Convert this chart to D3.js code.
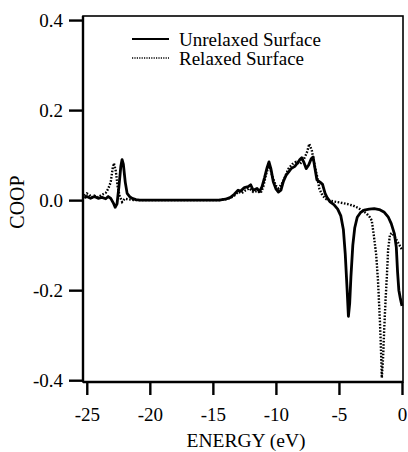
<!DOCTYPE html>
<html>
	<head>
		<script type="text/javascript" src="https://cdn.jsdelivr.net/npm/d3@7"></script>
	</head>
	<style>
	  body {
	  margin: 0;
	  background: white;
	  }
	  svg text {
	  font-family: "Liberation Serif", "Times New Roman", serif;
	  fill: black;
	  }
	</style>
	<body>
	  <svg id="chart" width="408" height="452"></svg>
	  <script type="text/javascript">
	    // energy (eV) and COOP
	    var unrelaxedE = [-25.2, -25.0, -24.7, -24.4, -24.1, -23.8, -23.5, -23.3, -23.1, -22.9, -22.75, -22.6, -22.45, -22.3, -22.2, -22.1, -21.95, -21.8, -21.6, -21.4, -21.1, -20.8,
	      -14.5, -14.0, -13.6, -13.3, -13.0, -12.8, -12.5, -12.2, -12.0, -11.8, -11.5, -11.3, -11.1, -10.9, -10.7, -10.55, -10.4, -10.2, -10.0, -9.8, -9.6, -9.4, -9.2, -9.0, -8.8, -8.5, -8.3, -8.1, -7.95, -7.8, -7.6, -7.4, -7.2, -7.05, -6.9, -6.75, -6.5, -6.3, -6.1, -5.95,
	      -5.7, -5.4, -5.1, -4.85, -4.65, -4.5, -4.35, -4.25, -4.15, -4.05, -3.9, -3.75, -3.55, -3.3, -3.0, -2.6, -2.2, -1.8, -1.4, -1.1, -0.85, -0.6, -0.45, -0.35, -0.25, -0.12, 0.0];
	    var unrelaxedCOOP = [0.005, 0.008, 0.004, 0.008, 0.004, 0.006, 0.003, 0.008, 0.004, -0.006, -0.016, -0.008, 0.03, 0.075, 0.09, 0.08, 0.04, 0.015, 0.008, 0.004, 0.001, 0.0,
	      0.0, 0.002, 0.006, 0.013, 0.022, 0.02, 0.028, 0.03, 0.034, 0.022, 0.026, 0.019, 0.03, 0.05, 0.072, 0.085, 0.07, 0.04, 0.025, 0.018, 0.022, 0.042, 0.055, 0.062, 0.07, 0.075, 0.082, 0.09, 0.094, 0.085, 0.07, 0.078, 0.092, 0.096, 0.07, 0.045, 0.04, 0.035, 0.015, 0.006,
	      -0.004, -0.01, -0.02, -0.035, -0.065, -0.12, -0.2, -0.258, -0.23, -0.17, -0.1, -0.062, -0.038, -0.028, -0.022, -0.02, -0.019, -0.021, -0.027, -0.037, -0.052, -0.075, -0.105, -0.16, -0.2, -0.22, -0.235];

	    var relaxedE = [-25.2, -25.0, -24.8, -24.6, -24.4, -24.1, -23.8, -23.5, -23.3, -23.1, -22.95, -22.85, -22.7, -22.55, -22.4, -22.2, -22.0, -21.7, -21.3,
	      -14.5, -14.0, -13.6, -13.3, -13.0, -12.7, -12.4, -12.1, -11.8, -11.5, -11.2, -11.0, -10.8, -10.6, -10.45, -10.25, -10.0, -9.8, -9.55, -9.3, -9.0, -8.7, -8.4, -8.1, -7.8, -7.55, -7.35, -7.15, -6.95, -6.75, -6.55, -6.3, -6.0,
	      -5.6, -5.2, -4.8, -4.3, -3.9, -3.5, -3.1, -2.8, -2.55, -2.4, -2.25, -2.05, -1.9, -1.75, -1.68, -1.6, -1.5, -1.4, -1.3, -1.2, -1.1, -0.95, -0.8, -0.6, -0.4, -0.2, 0.0];
	    var relaxedCOOP = [0.01, 0.015, 0.012, 0.006, 0.01, 0.006, 0.012, 0.016, 0.025, 0.04, 0.07, 0.082, 0.065, 0.03, 0.01, -0.004, 0.003, 0.002, 0.0,
	      0.0, 0.002, 0.005, 0.01, 0.018, 0.016, 0.022, 0.026, 0.018, 0.02, 0.016, 0.03, 0.055, 0.075, 0.07, 0.05, 0.032, 0.026, 0.035, 0.05, 0.07, 0.08, 0.085, 0.08, 0.09, 0.105, 0.125, 0.11, 0.08, 0.055, 0.025, 0.01, 0.002,
	      -0.002, -0.004, -0.006, -0.009, -0.012, -0.017, -0.024, -0.03, -0.038, -0.045, -0.075, -0.12, -0.18, -0.27, -0.32, -0.395, -0.35, -0.28, -0.22, -0.17, -0.11, -0.076, -0.073, -0.08, -0.09, -0.1, -0.11];

	    var xTicks = [-25, -20, -15, -10, -5, 0];
	    var yTicks = [-0.4, -0.2, 0.0, 0.2, 0.4];
	    var seriesNames = ["Unrelaxed Surface", "Relaxed Surface"];

	    var serif = "'Liberation Serif', 'Times New Roman', serif";
	    var svg = d3.select("#chart");
	    var plotLeft = 83, plotRight = 403, plotTop = 16, plotBottom = 382;

	    var x = d3.scaleLinear().domain([-25.3, 0.08]).range([plotLeft, plotRight]);
	    var y = d3.scaleLinear().domain([-0.404, 0.409]).range([plotBottom, plotTop]);

	    // frame
	    svg.append("rect").attr("x", plotLeft).attr("y", plotTop).attr("width", plotRight - plotLeft).attr("height", plotBottom - plotTop)
	      .attr("fill", "none").attr("stroke", "black").attr("stroke-width", 1.6);

	    var xAxis = svg.append("g").attr("transform", "translate(0," + plotBottom + ")")
	      .call(d3.axisBottom(x).tickValues(xTicks).tickSize(13).tickPadding(13).tickFormat(function(d){return String(d);}));
	    var yAxis = svg.append("g").attr("transform", "translate(" + plotLeft + ",0)")
	      .call(d3.axisLeft(y).tickValues(yTicks).tickSize(14).tickPadding(6).tickFormat(function(d){return d.toFixed(1);}));

	    svg.selectAll(".domain").remove();
	    svg.selectAll(".tick line").attr("stroke-width", 2.4);
	    xAxis.attr("font-family", serif).attr("font-size", 19);
	    yAxis.attr("font-family", serif).attr("font-size", 19);
	    svg.selectAll(".tick text").attr("fill", "black");

	    // thicker left and bottom edges
	    svg.append("line").attr("x1", plotLeft).attr("x2", plotLeft).attr("y1", plotTop).attr("y2", plotBottom).attr("stroke", "black").attr("stroke-width", 2.4);
	    svg.append("line").attr("x1", plotLeft).attr("x2", plotRight).attr("y1", plotBottom).attr("y2", plotBottom).attr("stroke", "black").attr("stroke-width", 2.4);

	    svg.append("text").attr("x", 246).attr("y", 447).attr("text-anchor", "middle")
	      .attr("font-family", serif).style("font-size", "19.5px").text("ENERGY (eV)");
	    svg.append("text").attr("transform", "translate(24,202) rotate(-90)").attr("text-anchor", "middle")
	      .attr("font-family", serif).style("font-size", "20px").text("COOP");

	    var lineFunction = d3.line().x(function(d){return x(d[0]);}).y(function(d){return y(d[1]);}).curve(d3.curveLinear);
	    var unrelaxed = d3.zip(unrelaxedE, unrelaxedCOOP);
	    var relaxed = d3.zip(relaxedE, relaxedCOOP);

	    svg.append("path").attr("d", lineFunction(relaxed)).attr("fill", "none").attr("stroke", "black")
	      .attr("stroke-width", 2.4).attr("stroke-dasharray", "1.6,1.6");
	    svg.append("path").attr("d", lineFunction(unrelaxed)).attr("fill", "none").attr("stroke", "black")
	      .attr("stroke-width", 2.8).attr("stroke-linejoin", "round");

	    // legend
	    var legend = svg.append("g");
	    var legendRows = legend.selectAll("g").data(seriesNames).enter().append("g")
	      .attr("transform", function(d, i){return "translate(132," + (39 + i * 19) + ")";});
	    legendRows.append("line").attr("x1", 0).attr("x2", 37).attr("y1", 0).attr("y2", 0).attr("stroke", "black")
	      .attr("stroke-width", function(d, i){return i === 0 ? 2 : 1.6;})
	      .attr("stroke-dasharray", function(d, i){return i === 0 ? null : "1.2,1.2";});
	    legendRows.append("text").attr("x", 47).attr("y", 0).attr("dy", "0.35em")
	      .attr("font-family", serif).style("font-size", "19px")
	      .text(function(d){return d;});
	  </script>
	</body>
</html>
